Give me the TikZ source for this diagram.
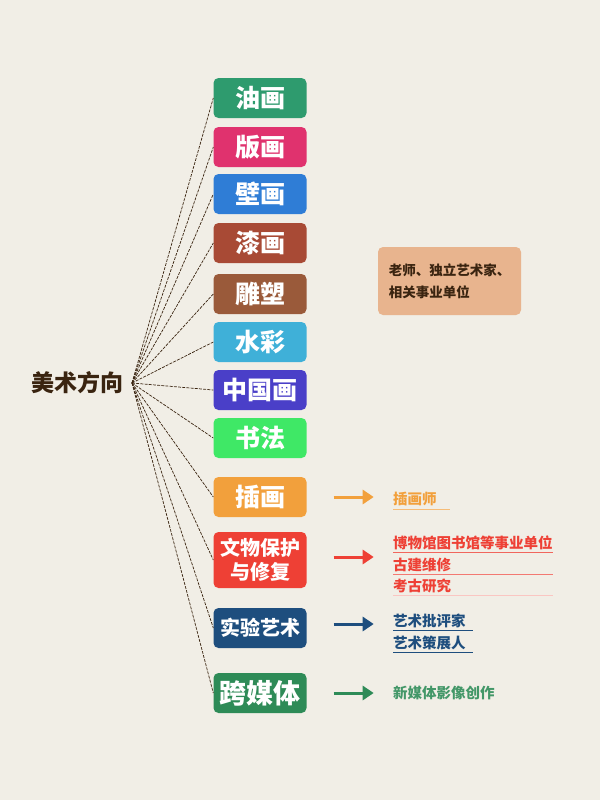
\documentclass[tikz,border=0pt]{standalone}
\usepackage{fontspec}
\newfontfamily\cjk{Noto Sans CJK SC}
\usetikzlibrary{arrows.meta}
\definecolor{paper}{HTML}{F1EEE6}
\definecolor{rootbrown}{HTML}{3A2410}
\definecolor{cYouhua}{HTML}{2E9B6E}
\definecolor{cBanhua}{HTML}{E0326E}
\definecolor{cBihua}{HTML}{2F7DD6}
\definecolor{cQihua}{HTML}{A84A35}
\definecolor{cDiaosu}{HTML}{9A5A3A}
\definecolor{cShuicai}{HTML}{3FB0D8}
\definecolor{cGuohua}{HTML}{4A3FC8}
\definecolor{cShufa}{HTML}{3FE866}
\definecolor{cChahua}{HTML}{F2A03C}
\definecolor{cWenwu}{HTML}{EE4035}
\definecolor{cShiyan}{HTML}{1E4E7E}
\definecolor{cMeiti}{HTML}{2E8B57}
\definecolor{infobox}{HTML}{E8B48E}
\tikzset{
  cat/.style={rounded corners=5pt, minimum width=93pt, minimum height=40pt,
    inner sep=0pt, text=white, align=center,
    font=\cjk\bfseries\fontsize{25}{28}\selectfont},
  link/.style={rootbrown, line width=0.7pt, dash pattern=on 3pt off 1.2pt},
  arr/.style={line width=3pt, -{Triangle[length=11pt,width=14pt]}},
  job/.style={anchor=west, inner sep=0pt, font=\cjk\bfseries\fontsize{14.5}{16}\selectfont},
  uline/.style={line width=0.7pt}
}
\begin{document}
\begin{tikzpicture}[x=1pt,y=-1pt]
        \fill [paper] (0,0) rectangle (600,800);
        \useasboundingbox (0,0) rectangle (600,800);
        % root
        \node [inner sep=0pt, text=rootbrown, font=\cjk\bfseries\fontsize{23}{26}\selectfont] (root) at (77,383) {美术方向};
        \coordinate (hub) at (132,383);
        % categories
        \node [cat, fill=cYouhua] (youhua) at (260,98) {油画};
        \node [cat, fill=cBanhua] (banhua) at (260,147) {版画};
        \node [cat, fill=cBihua] (bihua) at (260,194) {壁画};
        \node [cat, fill=cQihua] (qihua) at (260,243) {漆画};
        \node [cat, fill=cDiaosu] (diaosu) at (260,294) {雕塑};
        \node [cat, fill=cShuicai] (shuicai) at (260,342) {水彩};
        \node [cat, fill=cGuohua] (guohua) at (260,390) {中国画};
        \node [cat, fill=cShufa] (shufa) at (260,438) {书法};
        \node [cat, fill=cChahua] (chahua) at (260,497) {插画};
        \node [cat, fill=cWenwu, minimum height=56pt, font=\cjk\bfseries\fontsize{20}{24}\selectfont] (wenwu) at (260,560) {文物保护\\与修复};
        \node [cat, fill=cShiyan, font=\cjk\bfseries\fontsize{20}{24}\selectfont] (shiyan) at (260,628) {实验艺术};
        \node [cat, fill=cMeiti, font=\cjk\bfseries\fontsize{27}{30}\selectfont] (meiti) at (260,693) {跨媒体};
        \foreach \c in {youhua,banhua,bihua,qihua,diaosu,shuicai,guohua,shufa,chahua,wenwu,shiyan,meiti}
          \draw [link] (hub) -- (\c.west);
        % careers
        \node [fill=infobox, rounded corners=5pt, minimum width=143pt, minimum height=68pt, text=rootbrown, align=left, font=\cjk\bfseries\fontsize{13.5}{22}\selectfont] (teacher) at (449.5,281) {老师、独立艺术家、\\相关事业单位};
        \node [job, text=cChahua] (illus) at (393,499) {插画师};
        \draw [uline, cChahua!70] ([yshift=-3pt]illus.south west) -- ++(57,0);
        \node [job, text=cWenwu] (museum) at (393,543) {博物馆图书馆等事业单位};
        \node [job, text=cWenwu] (repair) at (393,565) {古建维修};
        \node [job, text=cWenwu] (archae) at (393,586) {考古研究};
        \draw [uline, cWenwu!80] ([yshift=-2pt]museum.south west) -- ++(160,0);
        \draw [uline, cWenwu!70] ([yshift=-2pt]repair.south west) -- ++(160,0);
        \draw [uline, cWenwu!30] ([yshift=-2pt]archae.south west) -- ++(160,0);
        \node [job, text=cShiyan] (critic) at (393,621) {艺术批评家};
        \node [job, text=cShiyan] (curator) at (393,643) {艺术策展人};
        \draw [uline, cShiyan] ([yshift=-2pt]critic.south west) -- ++(80,0);
        \draw [uline, cShiyan] ([yshift=-2pt]curator.south west) -- ++(80,0);
        \node [job, text=cMeiti!90] (newmedia) at (393,693) {新媒体影像创作};
        % arrows
        \draw [arr, cChahua] ([xshift=27pt]chahua.east) -- ++(40,0);
        \draw [arr, cWenwu] ([xshift=27pt,yshift=3pt]wenwu.east) -- ++(40,0);
        \draw [arr, cShiyan] ([xshift=27pt,yshift=4pt]shiyan.east) -- ++(40,0);
        \draw [arr, cMeiti] ([xshift=27pt]meiti.east) -- ++(40,0);
      \end{tikzpicture}
\end{document}
